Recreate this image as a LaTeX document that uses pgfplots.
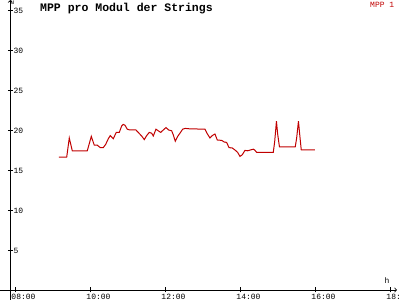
\documentclass[border=0pt]{standalone}
\usepackage{fontspec}
\setmainfont{Liberation Mono}
\usepackage{pgfplots}
\pgfplotsset{compat=1.18}
\definecolor{mppred}{HTML}{C00000}
\begin{document}
\begin{tikzpicture}[x=1pt,y=1pt]
\begin{axis}[
 at={(10.3pt,10pt)}, anchor=south west,
 scale only axis, width=386.7pt, height=290pt,
 xmin=7.867, xmax=18.18, ymin=0, ymax=36.25,
 axis lines=left,
 x axis line style={-to, shorten <=-10.3pt},
 y axis line style={-to, shorten <=-10pt},
 axis line style={line width=0.8pt},
 xtick={8,10,12,14,16,18}, xticklabels={08:00,10:00,12:00,14:00,16:00,18:00},
 ytick={5,10,15,20,25,30,35}, yticklabels={5,10,15,20,25,30,35},
 tick align=center, major tick length=5pt,
 tick style={black, line width=0.8pt},
 ticklabel style={font=\fontsize{8}{8}\selectfont, inner sep=0pt},
 xticklabel style={anchor=north west, xshift=-4pt, yshift=-1.7pt},
 yticklabel style={anchor=west, xshift=5.5pt, yshift=-0.5pt},
 clip=false,
]
\addplot[mppred, line width=1pt] table {
t v
9.165 16.6
9.371 16.6
9.44 19.0
9.52 17.4
9.92 17.4
10.027 19.2
10.107 18.1
10.187 18.1
10.267 17.8
10.347 17.8
10.41 18.2
10.48 18.9
10.533 19.3
10.613 18.9
10.693 19.7
10.773 19.7
10.837 20.5
10.88 20.7
10.925 20.6
10.987 20.1
11.059 20.0
11.219 20.0
11.299 19.6
11.379 19.2
11.44 18.8
11.504 19.3
11.573 19.7
11.637 19.6
11.68 19.25
11.752 20.1
11.813 19.9
11.877 19.7
11.947 20.0
12.019 20.3
12.091 20.0
12.171 19.9
12.213 19.4
12.267 18.6
12.331 19.2
12.392 19.6
12.464 20.1
12.533 20.2
12.64 20.15
13.059 20.1
13.112 19.6
13.192 19.0
13.253 19.3
13.325 19.5
13.387 18.75
13.504 18.7
13.573 18.5
13.637 18.45
13.699 17.8
13.787 17.75
13.859 17.5
13.931 17.2
13.992 16.7
14.053 16.9
14.125 17.45
14.197 17.4
14.267 17.5
14.347 17.6
14.384 17.5
14.437 17.2
14.88 17.2
14.917 18.5
14.965 21.1
14.997 19.5
15.045 17.9
15.467 17.9
15.504 19.0
15.552 21.1
15.584 19.5
15.627 17.5
15.992 17.5
};
\end{axis}
\node[anchor=north west, inner sep=0pt, font=\fontsize{5.5}{5.5}\selectfont] at (11,299.3) {U};
\node[anchor=base west, inner sep=0pt, font=\fontsize{8}{8}\selectfont] at (384.5,16) {h};
\node[anchor=base west, inner sep=0pt, font=\fontsize{11.5}{11.5}\selectfont\bfseries] at (40,288.7) {MPP pro Modul der Strings};
\node[anchor=base west, inner sep=0pt, text=mppred, font=\fontsize{8}{8}\selectfont] at (370,292.7) {MPP 1};
\pgfresetboundingbox
\path (0,0) rectangle (400,300);
\end{tikzpicture}
\end{document}
